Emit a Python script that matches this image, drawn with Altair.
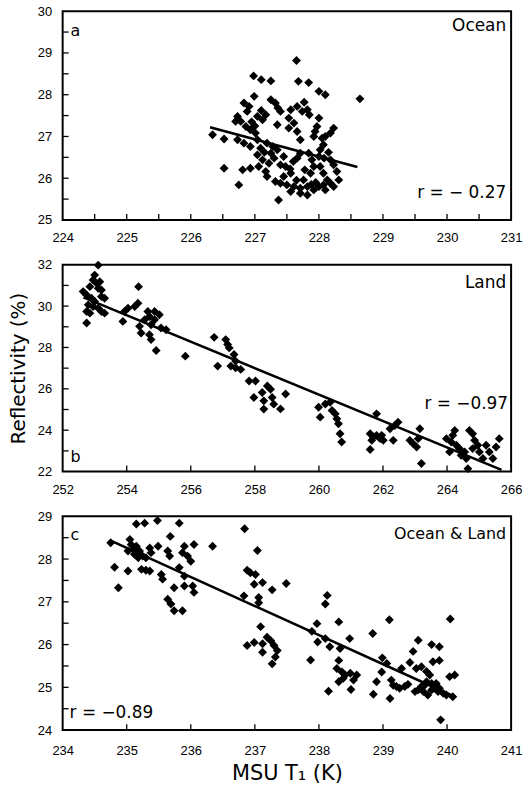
import altair as alt
import pandas as pd

FONT = "Liberation Sans"
TEXT_FONT = "DejaVu Sans"

# ---- panel a: ocean ----
ocean_t = [227.65, 226.98, 227.10, 227.25, 227.68, 227.84, 228.00, 228.10, 228.64, 226.99,
           226.83, 226.91, 226.88, 227.25, 227.32, 227.36, 227.40, 227.56, 227.66, 227.74,
           227.82, 226.73, 226.78, 226.70, 227.04, 227.12, 227.17, 226.86, 226.93, 227.01,
           227.35, 227.53, 227.61, 227.53, 227.66, 227.71, 228.00, 227.97, 227.94, 227.92,
           228.23, 228.18, 228.10, 228.05, 228.07, 228.02, 226.34, 226.52, 226.73, 226.83,
           226.93, 227.04, 227.09, 227.19, 227.04, 227.12, 227.22, 227.30, 227.40, 227.48,
           227.25, 227.35, 227.66, 227.71, 227.84, 227.89, 227.92, 227.87, 228.00, 228.02,
           228.07, 228.13, 228.18, 228.23, 228.28, 228.31, 228.23, 226.52, 226.81, 226.93,
           226.75, 227.06, 227.17, 227.19, 227.32, 227.40, 227.50, 227.61, 227.71, 227.82,
           227.56, 227.71, 227.82, 227.92, 228.00, 228.07, 228.18, 227.37, 227.56, 227.45,
           227.76, 227.15, 227.28, 227.45, 227.60, 227.78, 227.95, 228.10, 227.88, 227.65,
           227.55, 227.00, 227.10, 226.95, 227.85, 227.77, 228.15, 228.08]
ocean_r = [28.82, 28.45, 28.36, 28.33, 28.32, 28.29, 28.08, 28.00, 27.90, 27.96,
           27.80, 27.72, 27.60, 27.88, 27.80, 27.68, 27.60, 27.64, 27.72, 27.60,
           27.64, 27.48, 27.36, 27.36, 27.48, 27.40, 27.52, 27.24, 27.16, 27.08,
           27.28, 27.44, 27.32, 27.20, 27.12, 26.92, 27.44, 27.24, 27.12, 27.00,
           27.20, 27.08, 27.00, 26.96, 26.80, 26.68, 27.04, 26.94, 26.92, 26.84,
           26.76, 26.92, 26.72, 26.84, 26.56, 26.44, 26.36, 26.48, 26.32, 26.28,
           26.60, 26.68, 26.48, 26.60, 26.60, 26.44, 26.28, 26.12, 26.52, 26.28,
           26.12, 25.96, 26.44, 26.32, 26.16, 25.96, 25.80, 26.24, 26.20, 26.24,
           25.84, 26.28, 26.16, 26.04, 25.92, 25.88, 25.84, 25.80, 25.76, 25.80,
           25.68, 25.64, 25.60, 25.72, 25.80, 25.84, 25.88, 25.48, 26.12, 26.04,
           25.96, 26.62, 26.76, 26.52, 26.40, 26.20, 25.90, 25.72, 25.85, 25.95,
           26.22, 27.25, 27.62, 27.35, 27.52, 27.82, 26.62, 26.48]
ocean_fit_t = [226.30, 228.60]
ocean_fit_r = [27.22, 26.27]

# ---- panel b: land ----
land_t = [253.11, 253.00, 252.95, 253.06, 253.16, 252.85, 253.11, 253.21, 252.64, 252.75,
          252.90, 253.00, 253.21, 253.31, 252.80, 252.95, 253.11, 252.75, 252.85, 253.21,
          253.31, 252.75, 254.37, 254.35, 254.25, 254.04, 253.93, 253.88, 254.66, 254.87,
          255.02, 254.71, 254.87, 254.56, 254.40, 254.76, 255.07, 255.23, 254.45, 254.71,
          254.76, 254.92, 255.83, 256.73, 257.09, 257.15, 257.20, 257.35, 257.40, 256.84,
          257.25, 257.40, 257.56, 257.82, 258.02, 257.97, 258.23, 258.39, 258.49, 258.28,
          258.54, 258.59, 258.28, 258.80, 258.96, 259.99, 260.04, 260.20, 260.35, 260.41,
          260.51, 260.56, 260.61, 260.66, 260.71, 261.80, 261.60, 261.70, 261.80, 261.91,
          261.65, 261.96, 262.01, 261.60, 262.32, 262.22, 262.37, 262.47, 262.84, 262.94,
          263.05, 263.10, 263.15, 263.20, 263.98, 264.08, 264.13, 264.18, 264.24, 264.29,
          264.39, 264.44, 264.55, 264.60, 264.70, 264.80, 264.86, 264.96, 265.01, 265.12,
          264.80, 265.22, 265.32, 265.53, 265.63, 265.43, 264.65]
land_r = [31.98, 31.50, 31.26, 31.10, 31.18, 30.94, 30.86, 30.78, 30.70, 30.54,
          30.38, 30.22, 30.46, 30.38, 30.06, 29.98, 29.90, 29.74, 29.66, 29.74,
          29.66, 29.18, 30.94, 30.14, 29.98, 29.90, 29.74, 29.26, 29.74, 29.74,
          29.58, 29.50, 29.34, 29.34, 29.02, 29.10, 28.94, 28.86, 28.70, 28.62,
          28.38, 27.85, 27.58, 28.49, 28.38, 28.14, 27.98, 27.66, 27.34, 27.10,
          27.10, 27.02, 26.94, 26.38, 26.38, 25.58, 25.82, 26.14, 25.98, 25.42,
          25.58, 25.26, 25.02, 25.03, 25.75, 25.11, 24.63, 25.27, 25.35, 24.95,
          24.79, 24.55, 24.31, 23.83, 23.43, 24.79, 23.83, 23.67, 23.75, 23.59,
          23.51, 23.75, 23.51, 23.07, 23.51, 24.07, 24.23, 24.39, 23.51, 23.35,
          23.19, 23.59, 24.07, 22.39, 23.59, 22.95, 23.43, 23.75, 23.99, 23.27,
          23.11, 22.79, 22.95, 22.63, 23.99, 23.83, 23.51, 23.27, 22.95, 22.63,
          23.11, 23.27, 22.95, 23.19, 23.59, 22.63, 22.14]
land_fit_t = [252.65, 265.70]
land_fit_r = [30.42, 22.08]

# ---- panel c: ocean & land ----
both_t = [235.15, 235.28, 235.48, 235.82, 235.68, 234.75, 235.05, 235.07, 235.10, 235.15,
          235.20, 235.02, 235.12, 235.25, 235.36, 235.38, 235.30, 235.18, 235.49, 235.64,
          235.67, 235.90, 235.87, 235.95, 236.00, 236.05, 235.82, 236.34, 234.81, 235.02,
          235.23, 235.30, 235.36, 234.87, 235.54, 235.56, 235.90, 235.74, 235.90, 236.03,
          236.05, 235.64, 235.69, 235.74, 235.87, 236.84, 237.04, 236.88, 236.93, 237.01,
          236.99, 237.12, 237.27, 237.49, 236.83, 237.06, 237.06, 237.09, 236.88, 236.99,
          237.12, 237.19, 237.25, 237.30, 237.35, 237.12, 237.32, 237.27, 238.13, 238.10,
          237.97, 237.87, 237.98, 238.31, 239.10, 240.05, 237.89, 238.10, 238.17, 238.33,
          238.48, 238.84, 238.31, 238.28, 238.36, 238.41, 238.49, 238.59, 238.54, 238.31,
          238.38, 238.15, 238.50, 238.85, 238.99, 239.06, 238.98, 238.90, 239.13, 239.11,
          239.21, 239.16, 239.29, 239.26, 239.34, 239.39, 239.42, 239.47, 239.55, 239.52,
          239.60, 239.68, 239.73, 239.68, 239.50, 239.55, 239.60, 239.65, 239.63, 239.70,
          239.76, 239.81, 239.76, 239.83, 239.86, 239.94, 239.99, 240.09, 239.88, 239.76,
          239.88, 239.78, 239.88, 240.04, 240.12, 239.90]
both_r = [28.82, 28.84, 28.90, 28.84, 28.53, 28.38, 28.46, 28.34, 28.23, 28.30,
          28.19, 28.19, 28.11, 28.07, 28.26, 28.15, 28.03, 28.03, 28.30, 28.19,
          28.07, 28.30, 28.15, 28.07, 27.95, 28.34, 27.80, 28.30, 27.81, 27.72,
          27.76, 27.74, 27.72, 27.33, 27.64, 27.53, 27.60, 27.33, 27.37, 27.37,
          27.22, 27.06, 26.95, 26.79, 26.79, 28.71, 28.20, 27.74, 27.68, 27.64,
          27.41, 27.45, 27.28, 27.43, 27.14, 27.10, 26.98, 26.42, 25.98, 26.05,
          26.02, 26.17, 26.09, 25.98, 25.86, 25.82, 25.71, 25.55, 27.15, 26.95,
          26.49, 25.64, 26.06, 26.53, 26.58, 26.60, 26.31, 26.14, 25.95, 25.91,
          26.14, 26.26, 25.63, 25.44, 25.36, 25.29, 25.33, 25.29, 25.17, 25.13,
          25.21, 24.91, 24.95, 24.84, 25.69, 25.56, 25.36, 25.13, 25.17, 24.74,
          25.02, 25.05, 25.44, 24.98, 25.02, 25.07, 25.58, 25.84, 26.10, 25.44,
          25.48, 25.37, 25.29, 25.13, 24.90, 24.94, 25.02, 25.05, 24.90, 24.82,
          24.94, 24.98, 25.09, 25.09, 24.90, 24.86, 24.82, 24.78, 24.98, 26.00,
          25.95, 25.60, 25.63, 25.25, 25.29, 24.24]
both_fit_t = [234.75, 240.12]
both_fit_r = [28.43, 24.78]

# axis label values and tick positions
ocean_xlabels = [224, 225, 226, 227, 228, 229, 230, 231]
ocean_xticks = [224.5, 225, 225.5, 226, 226.5, 227, 227.5, 228, 228.5, 229, 229.5, 230, 230.5]
ocean_ylabels = [25, 26, 27, 28, 29, 30]
ocean_yticks = [25.5, 26, 26.5, 27, 27.5, 28, 28.5, 29, 29.5]

land_xlabels = [252, 254, 256, 258, 260, 262, 264, 266]
land_xticks = [254, 256, 258, 260, 262, 264]
land_ylabels = [22, 24, 26, 28, 30, 32]
land_yticks = [23, 24, 25, 26, 27, 28, 29, 30, 31]

both_xlabels = [234, 235, 236, 237, 238, 239, 240, 241]
both_xticks = [235, 236, 237, 238, 239, 240]
both_ylabels = [24, 25, 26, 27, 28, 29]
both_yticks = [24.5, 25, 25.5, 26, 26.5, 27, 27.5, 28, 28.5]

W = 451


def panel(t, r, fit_t, fit_r, xlabels, xticks, ylabels, yticks, h, notes,
          ytitle=None, xtitle=None, xpad=12):
    xdom = [xlabels[0], xlabels[-1]]
    ydom = [ylabels[0], ylabels[-1]]
    xaxis = dict(values=xlabels, ticks=False, domain=False, grid=False, format="d",
                 labelFont=FONT, labelFontSize=13, labelPadding=xpad, labelColor="black",
                 labelFlush=False, title=xtitle)
    if xtitle:
        xaxis.update(titleFont=TEXT_FONT, titleFontSize=21, titleFontWeight="normal",
                     titlePadding=5, titleColor="black")
    yaxis = dict(values=ylabels, ticks=False, domain=False, grid=False, format="d",
                 labelFont=FONT, labelFontSize=13, labelPadding=11, labelColor="black",
                 labelFlush=False, title=ytitle)
    if ytitle:
        yaxis.update(titleFont=TEXT_FONT, titleFontSize=20, titleFontWeight="normal",
                     titlePadding=9, titleColor="black")
    x = alt.X("t:Q", scale=alt.Scale(domain=xdom, nice=False, zero=False), axis=alt.Axis(**xaxis))
    y = alt.Y("r:Q", scale=alt.Scale(domain=ydom, nice=False, zero=False), axis=alt.Axis(**yaxis))

    pts = alt.Chart(pd.DataFrame({"t": t, "r": r})).mark_point(
        shape="diamond", filled=True, color="black", opacity=1, size=80
    ).encode(x=x, y=y)
    fit = alt.Chart(pd.DataFrame({"t": fit_t, "r": fit_r})).mark_line(
        color="black", strokeWidth=2.6
    ).encode(x=x, y=y)
    xt = alt.Chart(pd.DataFrame({"t": xticks})).mark_rule(
        color="black", strokeWidth=1.3
    ).encode(x=x, y=alt.value(h), y2=alt.value(h - 6))
    yt = alt.Chart(pd.DataFrame({"r": yticks})).mark_rule(
        color="black", strokeWidth=1.3
    ).encode(y=y, x=alt.value(0), x2=alt.value(6))

    layers = [pts, fit, xt, yt]
    for text, px, py, align, size in notes:
        layers.append(
            alt.Chart(pd.DataFrame({"label": [text]})).mark_text(
                font=TEXT_FONT, fontSize=size, color="black", align=align, baseline="middle"
            ).encode(x=alt.value(px), y=alt.value(py), text="label:N")
        )
    return alt.layer(*layers).properties(width=W, height=h)


pa = panel(ocean_t, ocean_r, ocean_fit_t, ocean_fit_r, ocean_xlabels, ocean_xticks,
           ocean_ylabels, ocean_yticks, 210,
           [("a", 8, 20, "left", 16), ("Ocean", 446, 15, "right", 17),
            ("r = \u2212 0.27", 446, 183, "right", 17)])
pb = panel(land_t, land_r, land_fit_t, land_fit_r, land_xlabels, land_xticks,
           land_ylabels, land_yticks, 208,
           [("Land", 446, 18, "right", 17), ("r = \u22120.97", 448, 140, "right", 17),
            ("b", 8, 193, "left", 16)],
           ytitle="Reflectivity (%)")
pc = panel(both_t, both_r, both_fit_t, both_fit_r, both_xlabels, both_xticks,
           both_ylabels, both_yticks, 215,
           [("c", 8, 19, "left", 16), ("Ocean & Land", 446, 18, "right", 16),
            ("r = \u22120.89", 7, 198, "left", 17)],
           xtitle="MSU T\u2081 (K)", xpad=15)

chart = alt.vconcat(pa, pb, pc, spacing=45, bounds="flush").properties(
    padding={"left": 7, "top": 2, "right": 7, "bottom": 2},
    background="white",
).configure_view(stroke="black", strokeWidth=2)

chart.save("out.html", embed_options={"renderer": "svg", "actions": False})
